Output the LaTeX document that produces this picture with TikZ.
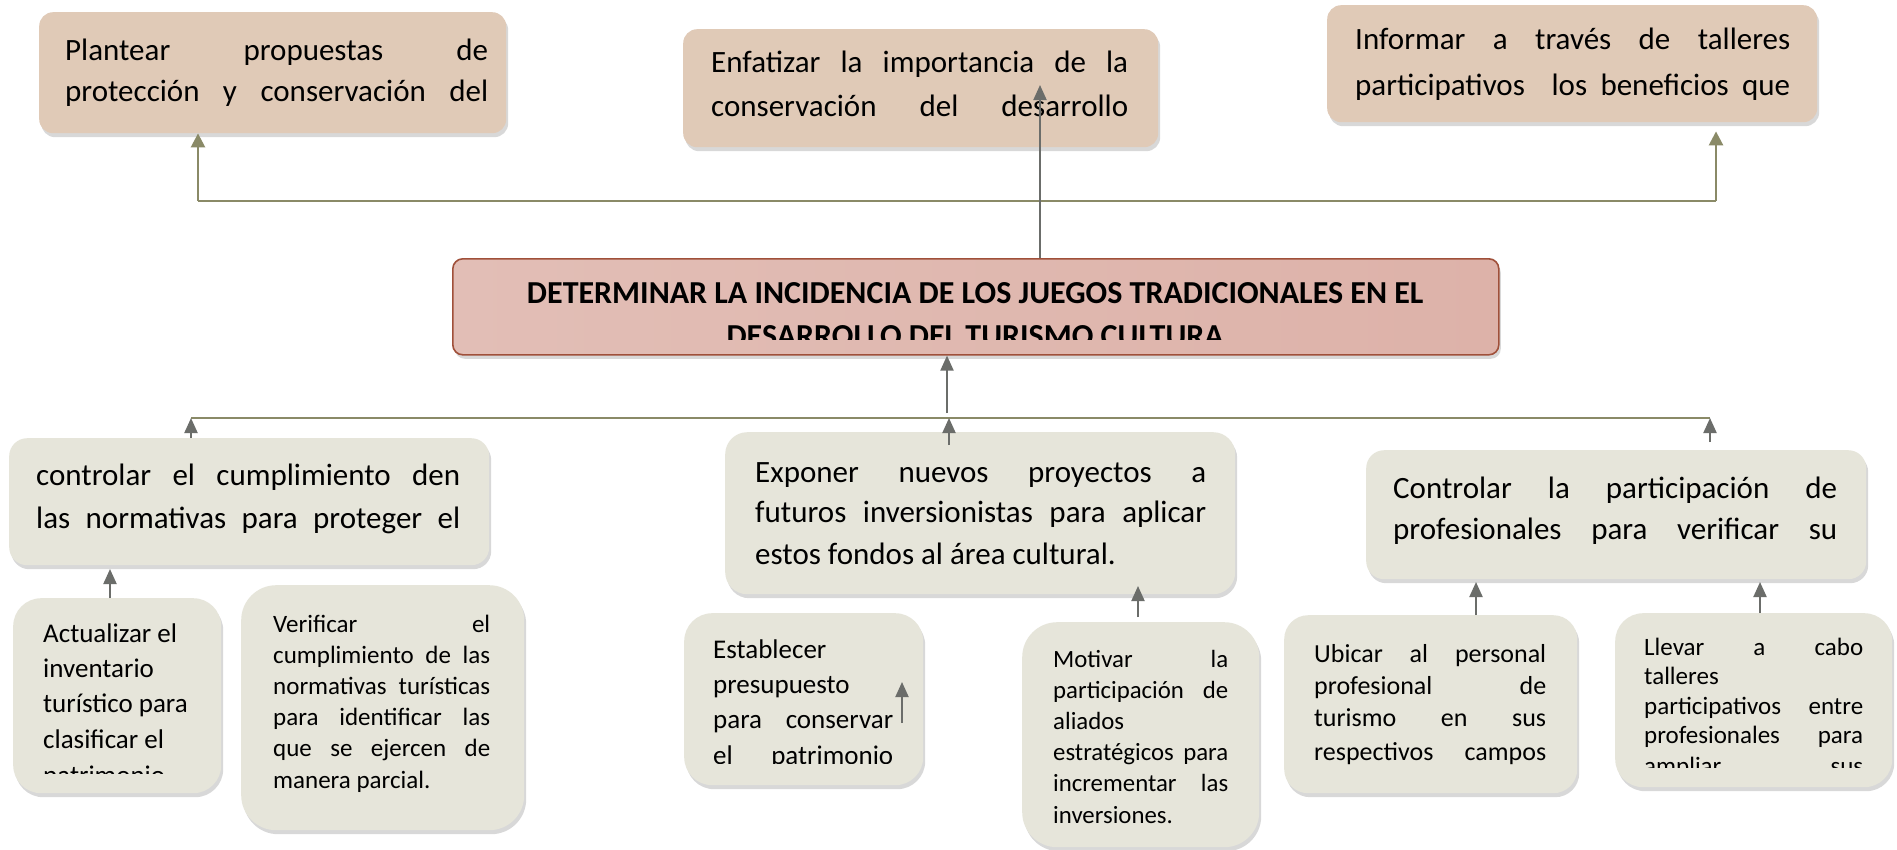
\documentclass[tikz,border=0pt]{standalone}
\usepackage{fontspec}
\setmainfont{Carlito}
\usetikzlibrary{arrows.meta,shadows,calc}
\setlength\parindent{0pt}
\definecolor{tanfill}{HTML}{E0CAB7}
\definecolor{grayfill}{HTML}{E6E5DA}
\definecolor{olivec}{HTML}{8A8A67}
\definecolor{arrowc}{HTML}{6B6D6A}
\definecolor{mainborder}{HTML}{A0503A}
\definecolor{mainL}{HTML}{E2BEB6}
\definecolor{mainM}{HTML}{D49C8F}
\definecolor{mainR}{HTML}{DDB2A9}
\newcommand\W{0pt}
\newcommand\J[1]{\makebox[\W][s]{\strut#1}}
\newcommand\Ln[1]{\strut#1}
\newcommand\F[2]{\fontsize{#1}{#2}\selectfont\spaceskip=.226em plus 10em minus .02em\relax}
\newcommand\Fz[2]{\fontsize{#1}{#2}\selectfont\spaceskip=.226em\relax}
\newcommand\bx[7]{\node[#1, rounded corners=#7pt, anchor=north west, minimum width={(#5-#3)*1pt}, minimum height={(#6-#4)*1pt}] (#2) at (#3,#4) {};}
\newcommand\tx[5]{\node[txt, anchor=north west, text width=#4pt] (#1) at (#2,#3) {\renewcommand\W{#4pt}#5};}
\begin{document}
\begin{tikzpicture}[x=1pt,y=-1pt,
  shad/.style={drop shadow={opacity=0.3,shadow xshift=2pt,shadow yshift=-4pt}},
  tanbox/.style={fill=tanfill, draw=none, inner sep=0pt, shad},
  grbox/.style={fill=grayfill, draw=none, inner sep=0pt, shad},
  mainbox/.style={draw=mainborder, line width=1.6pt, left color=mainL, middle color=mainM, right color=mainR, inner sep=0pt, shad},
  txt/.style={inner sep=0pt, align=left},
  oline/.style={draw=olivec, line width=2.5pt},
  oarr/.style={draw=olivec, line width=2.5pt, -{Triangle[length=14pt,width=14pt]}},
  garr/.style={draw=arrowc, line width=2pt, -{Triangle[length=15pt,width=13pt]}}]
\fill[white] (0,0) rectangle (1897,849);
\useasboundingbox (0,0) rectangle (1897,849);
% boxes
\bx{tanbox}{b1}{39}{12}{506}{133}{14}
\bx{tanbox}{b2}{683}{29}{1158}{147}{14}
\bx{tanbox}{b3}{1327}{5}{1817}{122}{14}
\bx{mainbox}{main}{452}{258}{1498}{354}{10}
\bx{grbox}{m1}{9}{438}{489}{565}{18}
\bx{grbox}{m2}{725}{432}{1235}{594}{22}
\bx{grbox}{m3}{1366}{450}{1866}{579}{18}
\bx{grbox}{c1}{13}{598}{221}{793}{28}
\bx{grbox}{c2}{241}{585}{524}{830}{35}
\bx{grbox}{c3}{684}{613}{923}{785}{28}
\bx{grbox}{c4}{1022}{622}{1259}{847}{35}
\bx{grbox}{c5}{1284}{615}{1577}{793}{24}
\bx{grbox}{c6}{1615}{613}{1892}{787}{28}
% texts
\tx{t1}{65}{32}{423}{\F{31}{40}\J{Plantear propuestas de}\\\J{protección y conservación del}}
\tx{t2}{711}{42}{417}{\F{31}{43}\J{Enfatizar la importancia de la}\\\J{conservación del desarrollo}}
\tx{t3}{1355}{17.5}{435}{\F{31}{45}\J{Informar a través de talleres}\\\J{participativos\ \ los beneficios que}}
\begin{scope}
\clip (452,258) rectangle (1498,339);
\node[txt, align=center, text width=1046pt, anchor=north west] (tt) at (452,273.6) {\bfseries\Fz{32}{42}\strut DETERMINAR LA INCIDENCIA DE LOS JUEGOS TRADICIONALES EN EL\\\strut DESARROLLO DEL TURISMO CULTURA};
\end{scope}
\tx{tm1}{36}{455.6}{424}{\F{31}{42}\J{controlar el cumplimiento den}\\\J{las normativas para proteger el}}
\tx{tm2}{755}{453.6}{451}{\F{31}{40.5}\J{Exponer nuevos proyectos a}\\\J{futuros inversionistas para aplicar}\\\Ln{estos fondos al área cultural.}}
\tx{tm3}{1393}{470}{444}{\F{31}{40}\J{Controlar la participación de}\\\J{profesionales para verificar su}}
\begin{scope}
\clip (13,598) rectangle (221,773);
\tx{tc1}{43}{617.3}{175}{\F{27}{35.3}\Ln{Actualizar el}\\\Ln{inventario}\\\Ln{turístico para}\\\Ln{clasificar el}\\\Ln{patrimonio}}
\end{scope}
\tx{tc2}{273}{610.3}{217}{\F{25}{31}\J{Verificar el}\\\J{cumplimiento de las}\\\J{normativas turísticas}\\\J{para identificar las}\\\J{que se ejercen de}\\\Ln{manera parcial.}}
\begin{scope}
\clip (684,613) rectangle (923,763);
\tx{tc3}{713}{633.5}{180}{\F{27}{35}\Ln{Establecer}\\\Ln{presupuesto}\\\J{para conservar}\\\J{el patrimonio}}
\end{scope}
\tx{tc4}{1053}{645.3}{175}{\F{24.8}{31}\J{Motivar la}\\\J{participación de}\\\Ln{aliados}\\\J{estratégicos para}\\\J{incrementar las}\\\Ln{inversiones.}}
\tx{tc5}{1314}{639.4}{232}{\F{26}{32.3}\J{Ubicar al personal}\\\J{profesional de}\\\J{turismo en sus}\\\J{respectivos campos}}
\begin{scope}
\clip (1615,613) rectangle (1892,767);
\tx{tc6}{1644}{634.4}{219}{\F{25}{29.5}\J{Llevar a cabo}\\\Ln{talleres}\\\J{participativos entre}\\\J{profesionales para}\\\J{ampliar sus}}
\end{scope}
% connectors top
\coordinate (tl) at (198,201);
\coordinate (tr) at (1716,201);
\draw[oline] (tl) -- (tr);
\draw[oarr] (tl) -- (tl |- b1.south);
\draw[oarr] (tr) -- ($(tr |- b3.south)+(0,9)$);
\coordinate (g2) at (1040,85);
\draw[garr] (main.north -| g2) -- (g2);
% connectors lower
\coordinate (ll) at (191,418);
\coordinate (lr) at (1710,418);
\draw[oline] (ll) -- (lr);
\coordinate (lc) at (947,413);
\draw[garr] (lc) -- (lc |- main.south);
\draw[garr] (m1.north -| ll) -- (ll);
\coordinate (e2) at (949,445);
\draw[garr] (e2) -- (e2 |- ll);
\draw[garr] ($(m3.north -| lr)+(0,-8)$) -- (lr);
% bottom connectors
\coordinate (a1) at (110,569);
\draw[garr] (c1.north -| a1) -- (a1);
\coordinate (a3s) at (902,723);
\coordinate (a3e) at (902,682);
\draw[garr] (a3s) -- (a3e);
\coordinate (a4) at (1138,586);
\draw[garr] ($(c4.north -| a4)+(0,-5)$) -- (a4);
\coordinate (a5) at (1476,582);
\draw[garr] (c5.north -| a5) -- (a5);
\coordinate (a6) at (1760,582);
\draw[garr] (c6.north -| a6) -- (a6);
\end{tikzpicture}
\end{document}
